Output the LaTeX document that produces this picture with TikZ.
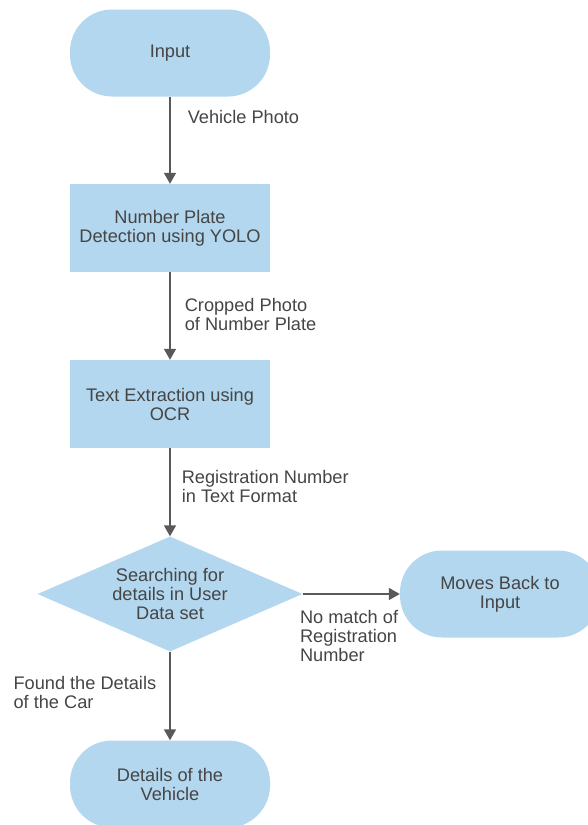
\documentclass[tikz,border=0pt]{standalone}
\usepackage{fontspec}
\setmainfont{Liberation Sans}
\usetikzlibrary{shapes,arrows.meta,positioning}
\definecolor{boxblue}{HTML}{B3D7EF}
\definecolor{inkgray}{HTML}{454545}
\definecolor{linegray}{HTML}{595959}
\tikzstyle{every picture}=[node distance=176pt, >={Triangle[length=11pt,width=12pt]},%
	font=\fontsize{18.2pt}{19pt}\selectfont, text=inkgray]
\tikzstyle{term}=[fill=boxblue, rounded corners=42pt, minimum width=200pt, minimum height=87pt, align=center]
\tikzstyle{proc}=[fill=boxblue, minimum width=200pt, minimum height=88pt, align=center]
\tikzstyle{decide}=[fill=boxblue, diamond, aspect=2.3, minimum width=265pt, minimum height=115pt, inner sep=0pt, align=center]
\tikzstyle{lbl}=[inner sep=2pt, align=left]
\tikzstyle{flow}=[draw=linegray, line width=1.6pt, ->]
\begin{document}
\begin{tikzpicture}
	\useasboundingbox (0,0) rectangle (588pt,-825pt);
	\node[term] (in) at (170pt,-53pt) {Input};
	\node[proc] (yolo) [below of=in, node distance=175pt] {Number Plate\\Detection using YOLO};
	\node[proc] (ocr) [below of=yolo] {Text Extraction using\\OCR};
	\node[decide] (search) [below of=ocr, node distance=190pt] {Searching for\\details in User\\Data set};
	\node[term] (back) [right of=search, node distance=330pt] {Moves Back to\\Input};
	\node[term] (info) [below of=search, node distance=190pt] {Details of the\\Vehicle};
	\path (in) edge[flow] node[lbl, pos=.23, anchor=west, xshift=15pt] {Vehicle Photo} (yolo)
		(yolo) edge[flow] node[lbl, pos=.48, anchor=west, xshift=12pt] {Cropped Photo\\of Number Plate} (ocr)
		(ocr) edge[flow] node[lbl, pos=.435, anchor=west, xshift=9pt] {Registration Number\\in Text Format} (search)
		(search) edge[flow] node[lbl, pos=0, anchor=west, xshift=-5.5pt, yshift=-42pt] {No match of\\Registration\\Number} (back)
		(search) edge[flow] node[lbl, pos=.46, anchor=east, xshift=-11pt] {Found the Details\\of the Car} (info);
\end{tikzpicture}
\end{document}
